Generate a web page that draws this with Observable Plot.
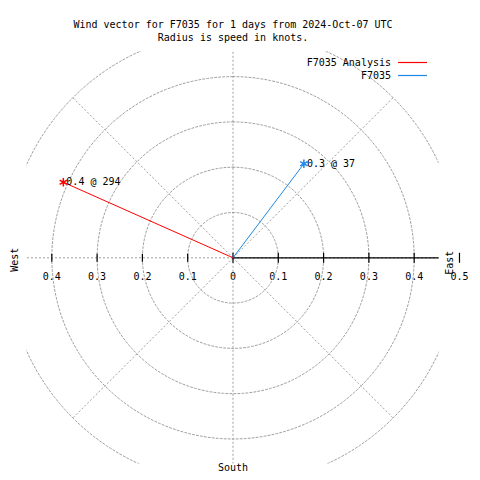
<!DOCTYPE html>
<html>
<head>
<meta charset="utf-8">
<script src="https://cdn.jsdelivr.net/npm/d3@7"></script>
<script src="https://cdn.jsdelivr.net/npm/@observablehq/plot@0.6"></script>
<style>
  html, body { margin: 0; padding: 0; background: #fff; }
  #chart { position: relative; width: 480px; height: 480px; }
</style>
</head>
<body>
<div id="chart"></div>
<script>
// ---- data ----
const seriesNames = ["F7035 Analysis", "F7035"];
const seriesColors = ["#ff0000", "#1e88e5"];
const speeds = [0.41, 0.26];        // knots
const directions = [294, 37];       // degrees (compass)
const ringValues = [0.1, 0.2, 0.3, 0.4, 0.5];
const spokeAngles = [0, 45, 90, 135, 180, 225, 270, 315];
const eastTicks = [0, 0.1, 0.2, 0.3, 0.4, 0.5];
const westTicks = [0.1, 0.2, 0.3, 0.4];
const titleLines = ["Wind vector for F7035 for 1 days from 2024-Oct-07 UTC", "Radius is speed in knots."];

const rad = d => d * Math.PI / 180;
const vectors = speeds.map((s, i) => ({
  name: seriesNames[i], color: seriesColors[i], s, dir: directions[i],
  u: s * Math.sin(rad(directions[i])), v: s * Math.cos(rad(directions[i]))
}));
const ringPts = ringValues.flatMap(r => d3.range(0, 361, 2).map(a => ({r, x: r * Math.sin(rad(a)), y: r * Math.cos(rad(a))})));
const spokes = spokeAngles.map(a => ({x2: 0.5 * Math.sin(rad(a)), y2: 0.5 * Math.cos(rad(a))}));
const fmt = d3.format(".1f");
const tickFmt = d => d === 0 ? "0" : fmt(d);

const vbar = {draw(ctx, size) { const r = Math.sqrt(size / Math.PI); ctx.moveTo(0, -r); ctx.lineTo(0, r); }};

const D = 0.455;
const grid = {stroke: "#a0a0a0", strokeWidth: 1, strokeDasharray: "2,2", clip: true};

const chart = Plot.plot({
  width: 480, height: 480,
  marginLeft: 26.4, marginRight: 41.4, marginTop: 51.2, marginBottom: 16.6,
  x: {domain: [-D, D], axis: null},
  y: {domain: [-D, D], axis: null},
  style: {fontFamily: "DejaVu Sans Mono", fontSize: "10px", background: "#fff"},
  marks: [
    // tick labels
    Plot.text(eastTicks, {x: d => d, y: 0, dy: 18.5, text: tickFmt, textAnchor: "middle"}),
    Plot.text(westTicks, {x: d => -d, y: 0, dy: 18.5, text: tickFmt, textAnchor: "middle"}),
    // grid
    Plot.line(ringPts, {x: "x", y: "y", z: "r", ...grid}),
    Plot.link(spokes, {x1: 0, y1: 0, x2: "x2", y2: "y2", ...grid}),
    // east axis
    Plot.ruleY([0], {x1: 0, x2: 0.5, stroke: "#000", strokeWidth: 1.2, clip: true}),
    Plot.dot(eastTicks, {x: d => d, y: 0, symbol: vbar, r: 5, stroke: "#000", strokeWidth: 1.2}),
    Plot.dot(westTicks, {x: d => -d, y: 0, symbol: vbar, r: 4, stroke: "#000", strokeWidth: 1.2}),
    // direction labels
    Plot.text(["East"], {frameAnchor: "right", dx: 11, dy: 5, rotate: -90, textAnchor: "middle"}),
    Plot.text(["West"], {frameAnchor: "left", dx: -12.4, dy: 2, rotate: -90, textAnchor: "middle"}),
    Plot.text(["South"], {frameAnchor: "bottom", dy: 7}),
    // title
    Plot.text([titleLines[0]], {frameAnchor: "top", dy: -31}),
    Plot.text([titleLines[1]], {frameAnchor: "top", dy: -18}),
    // vectors
    Plot.link(vectors, {x1: 0, y1: 0, x2: "u", y2: "v", stroke: "color", strokeWidth: 1}),
    Plot.dot(vectors, {x: "u", y: "v", symbol: "asterisk", r: 4, stroke: "color", strokeWidth: 1.5}),
    Plot.text(vectors, {x: "u", y: "v", text: d => `${fmt(d.s)} @ ${d.dir}`, textAnchor: "start", dx: 3})
  ]
});

// legend (inside svg, top-right)
const svg = d3.select(chart);
const lg = svg.append("g").attr("font-family", "DejaVu Sans Mono").attr("font-size", 10);
seriesNames.forEach((name, i) => {
  const y = 62.5 + i * 13;
  lg.append("text").attr("x", 391).attr("y", y).attr("dy", "0.32em").attr("text-anchor", "end").attr("fill", "#000").text(name);
  lg.append("line").attr("x1", 398).attr("x2", 427).attr("y1", y).attr("y2", y).attr("stroke", seriesColors[i]).attr("stroke-width", 1.2);
});

document.getElementById("chart").appendChild(chart);
</script>
</body>
</html>
